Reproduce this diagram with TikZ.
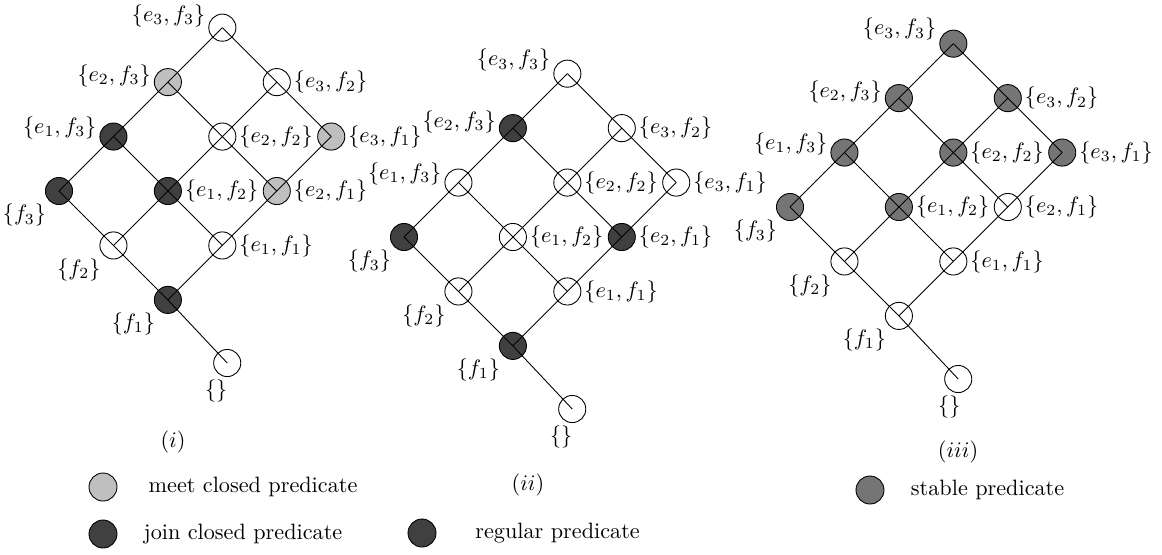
\documentclass[tikz,border=0pt]{standalone}
\usepackage{amsmath,amssymb}
\usepackage{xcolor}
\usepackage{tikz}
\usetikzlibrary{positioning}

\definecolor{meetgray}{gray}{0.75}
\definecolor{joingray}{gray}{0.25}
\definecolor{stablegray}{gray}{0.46}

\begin{document}
\begin{tikzpicture}[
    x=0.45pt, y=-0.45pt,
    node distance=24.5pt and 24.5pt,
    elem/.style={circle, draw, thin, minimum size=12.2pt, inner sep=0pt, on grid},
    meetnode/.style={elem, fill=meetgray},
    joinnode/.style={elem, fill=joingray},
    stablenode/.style={elem, fill=stablegray},
    plainnode/.style={elem, fill=white},
    lbl/.style={inner sep=1.2pt},
    link/.style={thin},
    legkey/.style={circle, draw, thin, minimum size=12.6pt, inner sep=0pt}
]
\useasboundingbox (0,0) rectangle (1162,554);

% (i): meet closed and join closed
\node[joinnode, label={[lbl]below left:$\{f_3\}$}] (i-f3) at (59,191) {};
\node[plainnode, below right=of i-f3, label={[lbl]below left:$\{f_2\}$}] (i-f2) {};
\node[joinnode, below right=of i-f2, label={[lbl]below left:$\{f_1\}$}] (i-f1) {};
\node[plainnode, below right=28.4pt and 26.7pt of i-f1, label={[lbl,xshift=-5pt]below:$\{\}$}] (i-empty) {};
\node[joinnode, above right=of i-f3, label={[lbl,yshift=4pt]left:$\{e_1,f_3\}$}] (i-e1f3) {};
\node[meetnode, above right=of i-e1f3, label={[lbl,yshift=3pt]left:$\{e_2,f_3\}$}] (i-e2f3) {};
\node[plainnode, above right=of i-e2f3, label={[lbl,yshift=5.5pt]left:$\{e_3,f_3\}$}] (i-e3f3) {};
\node[joinnode, above right=of i-f2, label={[lbl]right:$\{e_1,f_2\}$}] (i-e1f2) {};
\node[plainnode, above right=of i-e1f2, label={[lbl]right:$\{e_2,f_2\}$}] (i-e2f2) {};
\node[plainnode, above right=of i-e2f2, label={[lbl]right:$\{e_3,f_2\}$}] (i-e3f2) {};
\node[plainnode, above right=of i-f1, label={[lbl]right:$\{e_1,f_1\}$}] (i-e1f1) {};
\node[meetnode, above right=of i-e1f1, label={[lbl]right:$\{e_2,f_1\}$}] (i-e2f1) {};
\node[meetnode, above right=of i-e2f1, label={[lbl]right:$\{e_3,f_1\}$}] (i-e3f1) {};
\draw[link] (i-f3.center) -- (i-e1f3.center) -- (i-e2f3.center) -- (i-e3f3.center);
\draw[link] (i-f2.center) -- (i-e1f2.center) -- (i-e2f2.center) -- (i-e3f2.center);
\draw[link] (i-f1.center) -- (i-e1f1.center) -- (i-e2f1.center) -- (i-e3f1.center);
\draw[link] (i-f3.center) -- (i-f2.center) -- (i-f1.center) -- (i-empty.center);
\draw[link] (i-e1f3.center) -- (i-e1f2.center) -- (i-e1f1.center);
\draw[link] (i-e2f3.center) -- (i-e2f2.center) -- (i-e2f1.center);
\draw[link] (i-e3f3.center) -- (i-e3f2.center) -- (i-e3f1.center);
\node (i-cap) at (173,442) {$(i)$};

% (ii): regular
\node[joinnode, label={[lbl]below left:$\{f_3\}$}] (ii-f3) at (404,237) {};
\node[plainnode, below right=of ii-f3, label={[lbl]below left:$\{f_2\}$}] (ii-f2) {};
\node[joinnode, below right=of ii-f2, label={[lbl]below left:$\{f_1\}$}] (ii-f1) {};
\node[plainnode, below right=28.4pt and 26.7pt of ii-f1, label={[lbl,xshift=-5pt]below:$\{\}$}] (ii-empty) {};
\node[plainnode, above right=of ii-f3, label={[lbl,yshift=4pt]left:$\{e_1,f_3\}$}] (ii-e1f3) {};
\node[joinnode, above right=of ii-e1f3, label={[lbl,yshift=3pt]left:$\{e_2,f_3\}$}] (ii-e2f3) {};
\node[plainnode, above right=of ii-e2f3, label={[lbl,yshift=6pt]left:$\{e_3,f_3\}$}] (ii-e3f3) {};
\node[plainnode, above right=of ii-f2, label={[lbl]right:$\{e_1,f_2\}$}] (ii-e1f2) {};
\node[plainnode, above right=of ii-e1f2, label={[lbl]right:$\{e_2,f_2\}$}] (ii-e2f2) {};
\node[plainnode, above right=of ii-e2f2, label={[lbl]right:$\{e_3,f_2\}$}] (ii-e3f2) {};
\node[plainnode, above right=of ii-f1, label={[lbl]right:$\{e_1,f_1\}$}] (ii-e1f1) {};
\node[joinnode, above right=of ii-e1f1, label={[lbl]right:$\{e_2,f_1\}$}] (ii-e2f1) {};
\node[plainnode, above right=of ii-e2f1, label={[lbl]right:$\{e_3,f_1\}$}] (ii-e3f1) {};
\draw[link] (ii-f3.center) -- (ii-e1f3.center) -- (ii-e2f3.center) -- (ii-e3f3.center);
\draw[link] (ii-f2.center) -- (ii-e1f2.center) -- (ii-e2f2.center) -- (ii-e3f2.center);
\draw[link] (ii-f1.center) -- (ii-e1f1.center) -- (ii-e2f1.center) -- (ii-e3f1.center);
\draw[link] (ii-f3.center) -- (ii-f2.center) -- (ii-f1.center) -- (ii-empty.center);
\draw[link] (ii-e1f3.center) -- (ii-e1f2.center) -- (ii-e1f1.center);
\draw[link] (ii-e2f3.center) -- (ii-e2f2.center) -- (ii-e2f1.center);
\draw[link] (ii-e3f3.center) -- (ii-e3f2.center) -- (ii-e3f1.center);
\node (ii-cap) at (528,485) {$(ii)$};

% (iii): stable
\node[stablenode, label={[lbl]below left:$\{f_3\}$}] (iii-f3) at (790,207) {};
\node[plainnode, below right=of iii-f3, label={[lbl]below left:$\{f_2\}$}] (iii-f2) {};
\node[plainnode, below right=of iii-f2, label={[lbl]below left:$\{f_1\}$}] (iii-f1) {};
\node[plainnode, below right=28.4pt and 26.7pt of iii-f1, label={[lbl,xshift=-4pt]below:$\{\}$}] (iii-empty) {};
\node[stablenode, above right=of iii-f3, label={[lbl,yshift=4pt]left:$\{e_1,f_3\}$}] (iii-e1f3) {};
\node[stablenode, above right=of iii-e1f3, label={[lbl,yshift=3pt]left:$\{e_2,f_3\}$}] (iii-e2f3) {};
\node[stablenode, above right=of iii-e2f3, label={[lbl,yshift=6.5pt]left:$\{e_3,f_3\}$}] (iii-e3f3) {};
\node[stablenode, above right=of iii-f2, label={[lbl]right:$\{e_1,f_2\}$}] (iii-e1f2) {};
\node[stablenode, above right=of iii-e1f2, label={[lbl]right:$\{e_2,f_2\}$}] (iii-e2f2) {};
\node[stablenode, above right=of iii-e2f2, label={[lbl]right:$\{e_3,f_2\}$}] (iii-e3f2) {};
\node[plainnode, above right=of iii-f1, label={[lbl]right:$\{e_1,f_1\}$}] (iii-e1f1) {};
\node[plainnode, above right=of iii-e1f1, label={[lbl]right:$\{e_2,f_1\}$}] (iii-e2f1) {};
\node[stablenode, above right=of iii-e2f1, label={[lbl]right:$\{e_3,f_1\}$}] (iii-e3f1) {};
\draw[link] (iii-f3.center) -- (iii-e1f3.center) -- (iii-e2f3.center) -- (iii-e3f3.center);
\draw[link] (iii-f2.center) -- (iii-e1f2.center) -- (iii-e2f2.center) -- (iii-e3f2.center);
\draw[link] (iii-f1.center) -- (iii-e1f1.center) -- (iii-e2f1.center) -- (iii-e3f1.center);
\draw[link] (iii-f3.center) -- (iii-f2.center) -- (iii-f1.center) -- (iii-empty.center);
\draw[link] (iii-e1f3.center) -- (iii-e1f2.center) -- (iii-e1f1.center);
\draw[link] (iii-e2f3.center) -- (iii-e2f2.center) -- (iii-e2f1.center);
\draw[link] (iii-e3f3.center) -- (iii-e3f2.center) -- (iii-e3f1.center);
\node (iii-cap) at (958,452) {$(iii)$};

% legend
\node[legkey, fill=meetgray] (meetkey) at (103,487) {};
\node[right=10.5pt of meetkey] (meettext) {meet closed predicate};
\node[legkey, fill=joingray] (joinkey) at (103,534) {};
\node[right=8.4pt of joinkey] (jointext) {join closed predicate};
\node[legkey, fill=joingray] (regkey) at (422,533) {};
\node[right=14pt of regkey] (regtext) {regular predicate};
\node[legkey, fill=stablegray] (stablekey) at (870,490) {};
\node[right=8.4pt of stablekey] (stabletext) {stable predicate};
\end{tikzpicture}
\end{document}
